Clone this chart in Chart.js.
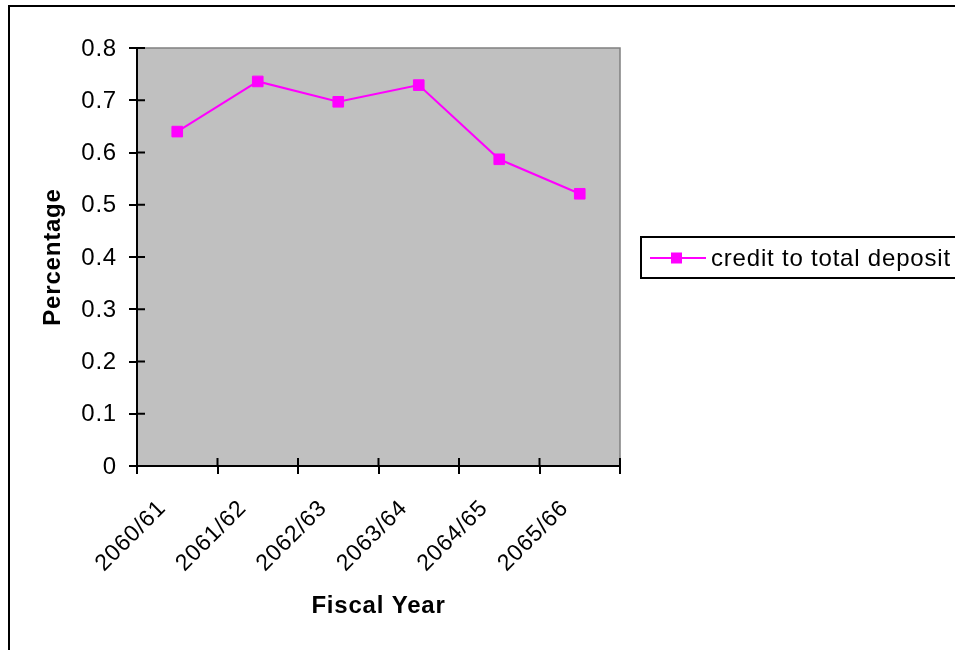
<!DOCTYPE html>
<html>
<head>
<meta charset="utf-8">
<title>Credit to total deposit</title>
<script src="https://cdn.jsdelivr.net/npm/chart.js@4.4.1/dist/chart.umd.min.js"></script>
<style>
  html, body { margin: 0; padding: 0; background: #fff; }
  #wrap { width: 955px; height: 650px; }
</style>
</head>
<body>
<div id="wrap"><canvas id="credit-deposit-chart" width="955" height="650"></canvas></div>
<script>
const fiscalYears = ['2060/61', '2061/62', '2062/63', '2063/64', '2064/65', '2065/66'];
const creditToTotalDeposit = [0.640, 0.736, 0.697, 0.729, 0.587, 0.521];
const percentageTicks = [0, 0.1, 0.2, 0.3, 0.4, 0.5, 0.6, 0.7, 0.8];
const seriesLabel = 'credit to total deposit';

const CreditDepositChart = document.getElementById('credit-deposit-chart');
const FONT = 'Arial, "Liberation Sans", sans-serif';
const MAGENTA = '#FF00FF';

//Excel style frame: grey plot, cross ticks, outer border and boxed legend
const excelFrame = {
    id: 'excelFrame',
    beforeDraw(chart) {
        const { ctx, chartArea: a } = chart;
        //slightly wider text like the old office renderer
        ctx.letterSpacing = '0.8px';
        ctx.save();
        ctx.fillStyle = '#fff';
        ctx.fillRect(0, 0, chart.width, chart.height);
        ctx.fillStyle = '#C0C0C0';
        ctx.fillRect(a.left, a.top, a.right - a.left, a.bottom - a.top);
        ctx.strokeStyle = '#808080';
        ctx.lineWidth = 1.5;
        ctx.beginPath();
        ctx.moveTo(a.left, a.top);
        ctx.lineTo(a.right, a.top);
        ctx.lineTo(a.right, a.bottom);
        ctx.stroke();
        ctx.restore();
    },
    afterDraw(chart) {
        const { ctx, chartArea: a, scales } = chart;
        ctx.save();
        ctx.strokeStyle = '#000';
        ctx.lineWidth = 2;
        ctx.beginPath();
        //inner half of the cross tick marks
        scales.y.ticks.forEach(t => {
            const y = scales.y.getPixelForValue(t.value);
            ctx.moveTo(a.left, y);
            ctx.lineTo(a.left + 8, y);
        });
        for (let i = 0; i <= fiscalYears.length; i++) {
            const x = scales.x.getPixelForValue(i - 0.5);
            ctx.moveTo(x, a.bottom);
            ctx.lineTo(x, a.bottom - 8);
        }
        ctx.stroke();

        //outer border
        ctx.strokeRect(9, 6, 2000, 2000);

        //legend
        const ds = chart.data.datasets[0];
        const ly = 258;
        ctx.strokeRect(641, 237, 400, 41);
        ctx.strokeStyle = ds.borderColor;
        ctx.lineWidth = 2;
        ctx.beginPath();
        ctx.moveTo(650, ly);
        ctx.lineTo(706, ly);
        ctx.stroke();
        ctx.fillStyle = ds.pointBackgroundColor;
        ctx.fillRect(671, ly - 5.5, 11, 11);
        ctx.fillStyle = '#000';
        ctx.font = '24px ' + FONT;
        ctx.textBaseline = 'middle';
        ctx.fillText(ds.label, 711, ly + 1);
        ctx.restore();
    }
};

new Chart(CreditDepositChart, {
    type: 'line',
    data: {
        labels: fiscalYears,
        datasets: [{
            label: seriesLabel,
            data: creditToTotalDeposit,
            borderColor: MAGENTA,
            backgroundColor: MAGENTA,
            borderWidth: 2,
            pointStyle: 'rect',
            pointRadius: 7.5,
            pointHoverRadius: 7.5,
            pointBackgroundColor: MAGENTA,
            pointBorderColor: MAGENTA,
            pointBorderWidth: 1,
            tension: 0
        }]
    },
    options: {
        responsive: false,
        animation: false,
        events: [],
        layout: { padding: { top: 48, right: 335, bottom: 0, left: 0 } },
        plugins: {
            legend: { display: false },
            tooltip: { enabled: false }
        },
        scales: {
            x: {
                offset: true,
                afterFit: scale => { scale.height = 184; },
                grid: {
                    offset: true,
                    drawOnChartArea: false,
                    tickLength: 8,
                    color: '#000',
                    lineWidth: 2
                },
                border: { color: '#000', width: 2 },
                ticks: {
                    color: '#000',
                    font: { family: FONT, size: 23 },
                    minRotation: 45,
                    maxRotation: 45,
                    autoSkip: false,
                    padding: 21,
                    labelOffset: -15
                },
                title: {
                    display: true,
                    text: 'Fiscal Year',
                    color: '#000',
                    font: { family: FONT, size: 24, weight: 'bold' },
                    padding: { top: 0, bottom: 29 }
                }
            },
            y: {
                min: 0,
                max: 0.8,
                afterFit: scale => { scale.width = 137; },
                afterBuildTicks: scale => {
                    scale.ticks = percentageTicks.map(v => ({ value: v }));
                },
                grid: {
                    drawOnChartArea: false,
                    tickLength: 8,
                    color: '#000',
                    lineWidth: 2
                },
                border: { color: '#000', width: 2 },
                ticks: {
                    color: '#000',
                    font: { family: FONT, size: 24 },
                    padding: 12,
                    labelOffset: 1,
                    callback: value => String(value)
                },
                title: {
                    display: true,
                    text: 'Percentage',
                    color: '#000',
                    font: { family: FONT, size: 24, weight: 'bold' },
                    padding: { top: 39, bottom: 0 }
                }
            }
        }
    },
    plugins: [excelFrame]
});
</script>
</body>
</html>
